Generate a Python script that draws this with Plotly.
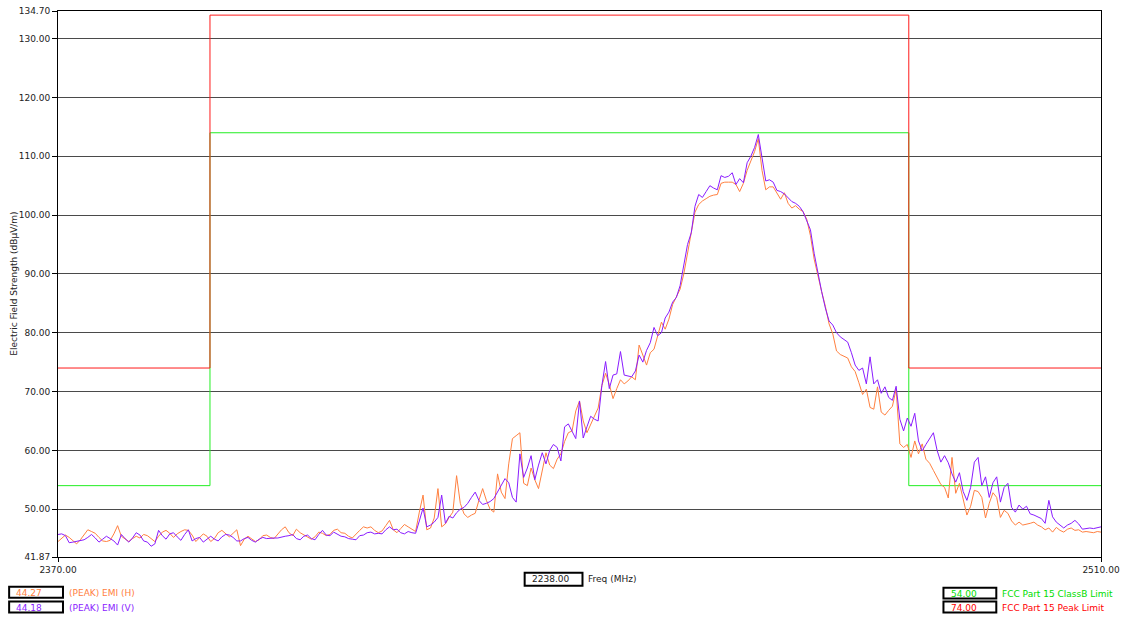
import plotly.graph_objects as go

# ---------------- data ----------------
FREQ_START = 2370.0   # MHz
FREQ_STEP = 0.5       # MHz sweep step

emi_h = [
    44.5, 45.0, 45.6, 45.2, 44.6, 44.1, 44.8, 45.7, 46.5, 46.2,
    45.9, 45.2, 44.6, 44.5, 44.7, 45.8, 47.2, 45.4, 44.9, 44.5,
    45.0, 45.4, 45.1, 45.7, 45.5, 45.0, 44.5, 45.4, 46.1, 46.4,
    45.9, 45.2, 45.8, 46.2, 46.5, 46.4, 45.6, 44.5, 45.1, 45.8,
    45.4, 44.5, 45.0, 46.0, 46.4, 45.9, 45.3, 45.9, 46.5, 43.8,
    44.9, 45.4, 45.0, 44.5, 44.8, 45.5, 45.6, 45.2, 45.0, 45.8,
    46.5, 47.0, 46.0, 45.5, 46.6, 46.0, 45.6, 45.2, 44.9, 45.3,
    46.1, 45.9, 45.5, 45.7, 46.4, 46.6, 46.0, 45.9, 45.4, 45.1,
    45.8, 46.4, 47.0, 46.8, 47.0, 46.4, 46.0, 46.3, 47.2, 48.1,
    46.5, 46.0, 46.7, 47.4, 47.0,
    # 2417.5 ...
    46.6, 46.2, 49.5, 52.4, 46.5, 46.8, 48.5, 53.5, 47.0, 47.5,
    48.6, 49.5, 55.7, 51.0, 49.2, 48.6, 49.0, 49.3, 51.5, 53.5,
    51.5, 50.0, 49.5, 56.0, 52.9, 51.8, 57.7, 62.0, 62.5, 63.0,
    54.4, 54.0, 57.0, 55.0, 53.5, 56.6, 59.6, 57.5, 56.9, 58.5,
    59.4, 61.5, 63.0, 63.3, 66.7, 68.4, 65.0, 63.0, 64.5, 66.0,
    67.2, 71.0, 73.1, 71.2, 68.8, 70.5, 72.0, 71.3, 71.8, 72.5,
    72.0, 77.9, 76.0, 74.5, 76.6, 77.2, 79.5, 81.8, 80.6, 82.3,
    84.8, 86.0, 87.4, 90.0, 93.6, 96.5, 100.5, 101.8, 102.4, 102.8,
    103.2, 103.4, 103.5, 105.4, 105.6, 105.6, 105.6, 105.2, 104.0, 105.4,
    107.6, 109.2, 110.8, 113.0, 107.6, 104.3, 104.8, 104.8, 103.7, 102.7,
    103.8, 102.0, 101.2, 101.6, 101.0, 100.6, 99.3, 96.5, 92.5, 89.5,
    87.0, 84.5, 81.5, 79.8, 76.9, 76.3, 76.0, 75.7, 74.2, 73.4,
    71.5, 69.5, 70.4, 67.3, 67.0, 70.8, 66.5, 66.0, 66.8, 67.5,
    70.4, 61.1, 60.5, 61.0, 58.8, 61.6, 59.4, 61.1, 58.5, 57.8,
    56.6, 55.5, 54.2, 53.7, 51.9, 58.8, 52.7, 54.4, 51.5, 49.0,
    50.5, 53.2, 53.0, 52.0, 48.5, 51.0, 52.8, 52.0, 48.6, 49.8,
    49.3, 48.0, 47.3, 47.8, 47.3, 47.4, 47.6, 47.8, 47.3, 47.0,
    46.5, 46.8, 46.1, 46.9, 46.4, 46.1, 46.6, 46.8, 46.4, 46.5,
    46.1, 46.2, 46.1, 46.0, 46.2, 46.1,
]

emi_v = [
    45.7, 45.8, 45.5, 44.3, 44.4, 44.5, 44.6, 44.8, 45.2, 45.7,
    45.1, 44.4, 44.9, 45.4, 45.0, 44.6, 43.9, 45.7, 45.0, 44.4,
    45.1, 46.0, 45.6, 44.6, 44.4, 43.7, 44.1, 46.4, 45.5, 44.9,
    45.8, 46.0, 45.3, 44.7, 45.7, 46.5, 44.6, 45.0, 45.2, 44.4,
    44.9, 45.4, 44.9, 44.6, 45.3, 45.7, 45.6, 45.2, 44.6, 44.6,
    45.0, 45.2, 44.7, 44.4, 44.9, 45.2, 45.0, 45.1, 45.1, 45.1,
    45.3, 45.4, 45.5, 45.7, 45.0, 44.8, 45.4, 45.6, 45.0, 44.8,
    45.7, 46.4, 45.6, 45.5, 46.1, 45.8, 45.4, 45.3, 45.0, 44.9,
    44.8, 45.5, 45.6, 46.0, 46.1, 45.8, 45.9, 45.8, 46.5, 47.0,
    46.5, 46.6, 46.0, 45.8, 46.2,
    # 2417.5 ...
    46.0, 45.9, 48.0, 50.2, 47.0, 47.3, 47.8, 48.6, 52.4, 47.6,
    48.8, 48.5, 49.4, 50.0, 50.3, 51.0, 52.0, 52.9, 51.5, 50.8,
    51.0, 51.3, 51.8, 52.9, 54.0, 55.2, 54.5, 52.0, 51.2, 59.4,
    55.4, 57.0, 59.1, 55.0, 57.5, 59.6, 57.7, 60.0, 61.0, 60.5,
    58.2, 64.0, 64.5, 63.3, 62.0, 68.4, 62.1, 64.0, 65.8, 65.3,
    65.0, 71.0, 75.1, 70.5, 72.8, 73.0, 76.8, 72.8, 72.6, 72.5,
    73.5, 76.2, 75.0, 77.0, 78.3, 80.9, 79.5, 80.0, 82.5, 83.5,
    85.2, 86.0, 88.0, 91.5, 95.0, 97.0, 101.5, 103.5, 103.0, 104.0,
    105.0, 104.6, 104.3, 106.7, 106.4, 106.6, 107.2, 105.2, 106.2, 105.5,
    108.9, 110.0, 111.5, 113.7, 110.1, 105.8, 106.0, 105.6, 104.2, 104.0,
    103.6, 103.0, 102.3, 102.0, 101.5, 100.6, 99.0, 97.5, 93.5, 89.9,
    87.0, 84.2, 82.0, 81.3, 80.0, 79.3, 78.8, 78.4, 76.6, 74.5,
    73.6, 74.0, 71.3, 75.9, 71.3, 72.0, 69.7, 70.8, 69.0, 68.5,
    70.9, 65.3, 63.3, 65.5, 64.1, 66.3, 61.6, 59.9, 61.0, 62.0,
    63.0, 60.0, 58.0, 59.1, 57.9, 56.0, 54.6, 56.2, 53.0, 51.5,
    53.7, 58.0, 58.8, 54.0, 55.5, 52.0, 54.5, 55.5, 51.2, 53.7,
    54.4, 50.3, 49.5, 50.7, 50.0, 50.5, 49.2, 49.0, 48.7, 48.4,
    47.6, 51.5, 48.7, 47.8, 47.3, 46.8, 47.3, 47.6, 48.1, 47.5,
    46.6, 46.7, 46.8, 46.7, 46.9, 47.0,
]

# limit lines: (frequency, level) break points, as drawn on the plot
limit_freq = [2370.0, 2390.4, 2390.4, 2484.2, 2484.2, 2510.0]
classb_limit = [54.0, 54.0, 114.0, 114.0, 54.0, 54.0]
peak_limit = [74.0, 74.0, 134.0, 134.0, 74.0, 74.0]

y_ticks = [41.87, 50, 60, 70, 80, 90, 100, 110, 120, 130, 134.70]
x_ticks = [2370.0, 2510.0]

legend_left = [("44.27", "(PEAK) EMI (H)"), ("44.18", "(PEAK) EMI (V)")]
legend_right = [("54.00", "FCC Part 15 ClassB Limit"), ("74.00", "FCC Part 15 Peak Limit")]
cursor_value = "2238.00"

freqs = [FREQ_START + FREQ_STEP * i for i in range(len(emi_h))]

# ---------------- styles ----------------
C_H = "#FF8040"
C_V = "#8A1CFF"
C_GREEN = "#22EE22"
C_RED = "#FF1A1A"
FONT = "DejaVu Sans"
FS = 9

fig = go.Figure()
fig.add_trace(go.Scatter(x=limit_freq, y=classb_limit, mode="lines",
                         line=dict(color=C_GREEN, width=1), hoverinfo="skip"))
fig.add_trace(go.Scatter(x=limit_freq, y=peak_limit, mode="lines",
                         line=dict(color=C_RED, width=1), hoverinfo="skip"))
fig.add_trace(go.Scatter(x=freqs, y=emi_h, mode="lines",
                         line=dict(color=C_H, width=1)))
fig.add_trace(go.Scatter(x=freqs[:len(emi_v)], y=emi_v, mode="lines",
                         line=dict(color=C_V, width=1)))

L, R, T, B = 58, 22, 6, 61
W, H = 1126, 618
PW, PH = W - L - R, H - T - B


def px(x):
    return (x - L) / PW


def py(y):
    return (H - B - y) / PH


shapes = []
annotations = []


def box(x0, y0, x1, y1):
    shapes.append(dict(type="rect", xref="paper", yref="paper",
                       x0=px(x0), x1=px(x1), y0=py(y1), y1=py(y0),
                       line=dict(color="black", width=2), fillcolor="white"))


def text(x, y, s, color, anchor="left"):
    annotations.append(dict(xref="paper", yref="paper", x=px(x), y=py(y),
                            text=s, showarrow=False, xanchor=anchor,
                            yanchor="middle",
                            font=dict(family=FONT, size=FS, color=color)))


# left legend
for i, (val, lab) in enumerate(legend_left):
    col = C_H if i == 0 else C_V
    y0 = 587 + i * 15
    box(9, y0, 63, y0 + 11)
    text(14, y0 + 6, val, col)
    text(67, y0 + 6, lab, col)

# right legend
for i, (val, lab) in enumerate(legend_right):
    col = "#00DD00" if i == 0 else "#FF0000"
    y0 = 588 + i * 14
    box(946, y0, 999, y0 + 11)
    text(952, y0 + 6, val, col)
    text(1003, y0 + 6, lab, col)

# cursor box
box(526, 573, 584, 586)
text(531, 579.5, cursor_value, "#222222")
text(588, 579.5, "Freq (MHz)", "#222222")

# y axis title
annotations.append(dict(xref="paper", yref="paper", x=px(13), y=py(281),
                        text="Electric Field Strength (dBµV/m)", showarrow=False,
                        textangle=-90, xanchor="center", yanchor="middle",
                        font=dict(family=FONT, size=FS, color="#222222")))

fig.update_layout(
    width=W, height=H, autosize=False,
    margin=dict(l=L, r=R, t=T, b=B, pad=0),
    paper_bgcolor="white", plot_bgcolor="white",
    showlegend=False,
    shapes=shapes, annotations=annotations,
    font=dict(family=FONT, size=FS, color="#222222"),
    xaxis=dict(range=[x_ticks[0], x_ticks[-1]], showgrid=False, zeroline=False,
               showline=True, mirror=True, linecolor="black", linewidth=1,
               ticks="outside", ticklen=4, tickcolor="black",
               tickvals=x_ticks, ticktext=[f"{v:.2f}" for v in x_ticks],
               tickfont=dict(family=FONT, size=FS, color="#222222")),
    yaxis=dict(range=[y_ticks[0], y_ticks[-1]], showgrid=True, gridcolor="#4a4a4a",
               gridwidth=1, zeroline=False,
               showline=True, mirror=True, linecolor="black", linewidth=1,
               ticks="outside", ticklen=5, tickcolor="black",
               tickvals=y_ticks, ticktext=[f"{v:.2f}" for v in y_ticks],
               tickfont=dict(family=FONT, size=FS, color="#222222")),
)

fig.write_html(
    "out.html",
    config={"displayModeBar": False},
    post_script="document.body.style.margin='0';document.body.style.overflow='hidden';",
)
